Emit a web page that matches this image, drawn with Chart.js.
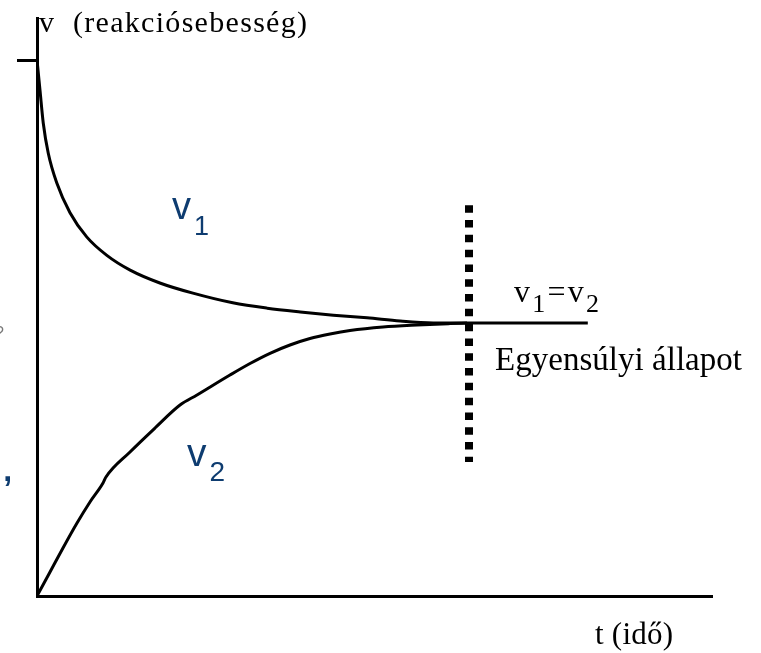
<!DOCTYPE html>
<html>
<head>
<meta charset="utf-8">
<script src="https://cdn.jsdelivr.net/npm/chart.js@4"></script>
<style>
  html, body { margin: 0; padding: 0; background: #fff; }
  canvas { display: block; }
</style>
</head>
<body>
<canvas id="rateChart" width="761" height="653"></canvas>
<script>
// forward reaction rate v1 (falls from the start value)
const v1Time = [0, 0.44, 0.93, 1.67, 2.92, 4.89, 7.36, 10.3, 13.8, 18.2, 23.1, 29.0, 34.1, 39.0, 43.9, 48.9, 53.8, 58.7, 63.7, 81.6];
const v1Rate = [100, 94.4, 88.2, 82.6, 77.1, 71.5, 67.0, 63.6, 60.8, 58.4, 56.5, 54.7, 53.7, 53.0, 52.4, 51.9, 51.3, 50.95, 50.93, 50.93];

// reverse reaction rate v2 (grows from zero)
const v2Time = [0, 1.93, 3.85, 5.93, 7.85, 9.78, 10.22, 13.78, 17.48, 21.19, 23.7, 28.59, 31.56, 34.52, 37.48, 40.44, 43.41, 46.37, 51.26, 56.3, 61.19, 63.7];
const v2Rate = [0, 4.48, 8.96, 13.62, 17.54, 21.08, 22.2, 26.87, 31.34, 35.63, 37.5, 41.23, 43.38, 45.28, 46.83, 48.04, 48.88, 49.53, 50.19, 50.56, 50.82, 50.93];

// equilibrium marker
const equilibriumTime = [64, 64];
const equilibriumSpan = [72.9, 25.0];

const yTicks = [100];

const toPoints = (xs, ys) => xs.map((x, i) => ({ x: x, y: ys[i] }));

const serif = '"Liberation Serif", "Times New Roman", serif';
const sans = '"Liberation Sans", Arial, sans-serif';
const blue = '#0e3c70';

// text notes, anchored in data units (left edge, baseline)
const notes = [
    { at: [0.3, 105.2], width: 268, runs: [{ text: 'v  (reakciósebesség)', font: '30px ' + serif }] },
    { at: [82.67, -8.96], width: 78, runs: [{ text: 't (idő)', font: '31px ' + serif }] },
    { at: [70.67, 54.85], width: 85, runs: [
        { text: 'v', font: '32px ' + serif },
        { text: '1', font: '26px ' + serif, dy: 10 },
        { text: '=', font: '32px ' + serif },
        { text: 'v', font: '32px ' + serif },
        { text: '2', font: '26px ' + serif, dy: 10 }
    ] },
    { at: [67.85, 42.16], width: 247, runs: [{ text: 'Egyensúlyi állapot', font: '33px ' + serif }] },
    { at: [20.0, 70.34], runs: [
        { text: 'v', font: '38px ' + sans, color: blue },
        { text: '1', font: '27px ' + sans, color: blue, dy: 16, dx: 3 }
    ] },
    { at: [22.22, 24.25], runs: [
        { text: 'v', font: '39px ' + sans, color: blue },
        { text: '2', font: '28px ' + sans, color: blue, dy: 15, dx: 3 }
    ] },
    { at: [-6.22, 48.1], runs: [{ text: '?', font: '16px ' + sans, color: '#777' }] },
    { at: [-5.0, 21.5], runs: [{ text: ',', font: 'bold 32px ' + sans, color: blue }] }
];

function drawRuns(ctx, runs, x, y, width) {
    let natural = 0, count = 0;
    runs.forEach(r => {
        ctx.font = r.font;
        for (const ch of r.text) { natural += ctx.measureText(ch).width; count++; }
    });
    const gap = width ? (width - natural) / Math.max(count - 1, 1) : 0;
    let cx = x;
    runs.forEach(r => {
        ctx.font = r.font;
        ctx.fillStyle = r.color || '#000';
        cx += r.dx || 0;
        for (const ch of r.text) {
            ctx.fillText(ch, cx, y + (r.dy || 0));
            cx += ctx.measureText(ch).width + gap;
        }
    });
}

const notesPlugin = {
    id: 'notes',
    afterDraw(chart) {
        const ctx = chart.ctx;
        const xs = chart.scales.x, ys = chart.scales.y;
        ctx.save();
        ctx.textBaseline = 'alphabetic';
        ctx.textAlign = 'left';
        notes.forEach(n => {
            drawRuns(ctx, n.runs, xs.getPixelForValue(n.at[0]), ys.getPixelForValue(n.at[1]), n.width);
        });
        ctx.restore();
    }
};

const lineStyle = { borderColor: '#000', borderWidth: 3, pointRadius: 0, fill: false, cubicInterpolationMode: 'monotone' };

new Chart(document.getElementById('rateChart'), {
    type: 'line',
    data: {
        datasets: [
            Object.assign({ label: 'v1', data: toPoints(v1Time, v1Rate) }, lineStyle),
            Object.assign({ label: 'v2', data: toPoints(v2Time, v2Rate) }, lineStyle),
            {
                label: 'egyensúly',
                data: toPoints(equilibriumTime, equilibriumSpan),
                borderColor: '#000',
                borderWidth: 8,
                borderDash: [7.5, 7.3],
                pointRadius: 0,
                fill: false
            }
        ]
    },
    options: {
        responsive: false,
        devicePixelRatio: 1,
        animation: false,
        layout: { padding: { top: 18, right: 49, left: 0, bottom: 0 } },
        plugins: { legend: { display: false }, tooltip: { enabled: false } },
        scales: {
            x: {
                type: 'linear',
                min: 0,
                max: 100,
                grid: { display: false },
                ticks: { display: false },
                border: { display: true, color: '#000', width: 3 },
                afterFit(s) { s.height = 57; }
            },
            y: {
                type: 'linear',
                min: 0,
                max: 107.836,
                afterBuildTicks(s) { s.ticks = yTicks.map(v => ({ value: v })); },
                grid: { display: true, drawOnChartArea: false, drawTicks: true, tickLength: 20, color: '#000', lineWidth: 3 },
                ticks: { display: false },
                border: { display: true, color: '#000', width: 3 },
                afterFit(s) { s.width = 37; }
            }
        }
    },
    plugins: [notesPlugin]
});
</script>
</body>
</html>
